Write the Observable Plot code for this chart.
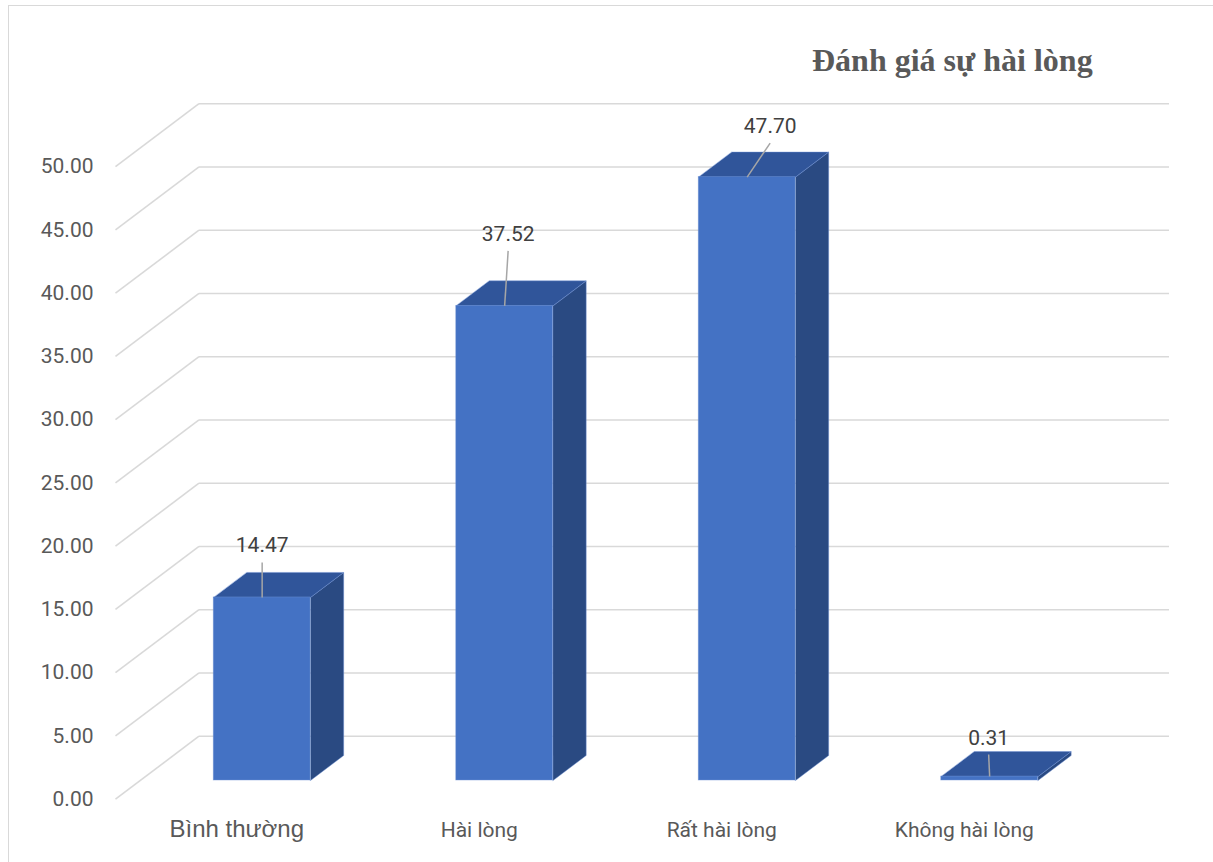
<!DOCTYPE html>
<html>
<head>
<meta charset="utf-8">
<script src="https://cdn.jsdelivr.net/npm/d3@7"></script>
<script src="https://cdn.jsdelivr.net/npm/@observablehq/plot@0.6"></script>
<style>
  html, body { margin: 0; padding: 0; background: #fff; width: 1213px; height: 862px; overflow: hidden; }
  #chart { position: absolute; left: 0; top: 0; }
  #chart svg { background: transparent; }
  #frame { position: absolute; left: 8px; top: 5px; width: 1240px; height: 900px; border: 1px solid #d9d9d9; pointer-events: none; }
  #title { position: absolute; left: 812px; top: 44px; font: bold 32px/32px "Liberation Serif", "Times New Roman", serif; color: #595959; white-space: nowrap; }
</style>
</head>
<body>
<div id="chart"></div>
<div id="title">Đánh giá sự hài lòng</div>
<div id="frame"></div>
<script>
// Satisfaction survey results (%)
const categories = ["Bình thường", "Hài lòng", "Rất hài lòng", "Không hài lòng"];
const values = [14.47, 37.52, 47.70, 0.31];
const yTicks = [0, 5, 10, 15, 20, 25, 30, 35, 40, 45, 50];

// Pixel layout of the front plane of the 3-D box
const W = 1213, H = 862;
const FRONT_LEFT = 115, FRONT_RIGHT = 1085;
const FRONT_ZERO = 798.7, FRONT_MAX = 166.2;
const PX_X = (FRONT_RIGHT - FRONT_LEFT) / categories.length; // px per category
const PX_Y = (FRONT_ZERO - FRONT_MAX) / 50;                   // px per unit

// Oblique depth of the box, expressed in scale units
const DEPTH_X = 83.5 / PX_X;
const DEPTH_Y = 63 / PX_Y;
const bar = {left: 0.303, right: 0.702, front: 0.297, back: 0.694};

// Label placement relative to the top-front centre of each bar (px)
const labelShift = [[0, -45], [3.5, -65], [23, -44], [-1, -32]];
const LEADER_GAP = 10;

const rows = categories.map((c, i) => ({i, cat: c, value: values[i]}));
const at = (x, y, d) => ({x: x + d * DEPTH_X, y: y + d * DEPTH_Y});

// Polygons for the top and right side of every bar
const tops = [], sides = [];
for (const r of rows) {
  const xl = r.i + bar.left, xr = r.i + bar.right, v = r.value;
  [at(xl, v, bar.front), at(xr, v, bar.front), at(xr, v, bar.back), at(xl, v, bar.back)]
    .forEach(p => tops.push({id: r.i, ...p}));
  [at(xr, v, bar.front), at(xr, v, bar.back), at(xr, 0, bar.back), at(xr, 0, bar.front)]
    .forEach(p => sides.push({id: r.i, ...p}));
}

const frontCx = r => r.i + (bar.left + bar.right) / 2 + bar.front * DEPTH_X;
const frontTop = r => r.value + bar.front * DEPTH_Y;
const labelX = r => frontCx(r) + labelShift[r.i][0] / PX_X;
const labelY = r => frontTop(r) - labelShift[r.i][1] / PX_Y;

const grid = {stroke: "#d9d9d9", strokeWidth: 1.6};
const faceStroke = {stroke: "#6b8fd4", strokeOpacity: 0.55, strokeWidth: 0.8};

const chart = Plot.plot({
  width: W,
  height: H,
  marginLeft: FRONT_LEFT,
  marginRight: W - FRONT_RIGHT,
  marginTop: FRONT_MAX,
  marginBottom: H - FRONT_ZERO,
  style: {color: "#595959", fontFamily: "Roboto, sans-serif", background: "transparent", overflow: "visible"},
  x: {domain: [0, categories.length], axis: null},
  y: {domain: [0, 50], label: null},
  marks: [
    // left wall diagonals and back wall gridlines
    Plot.link(yTicks, {x1: () => 0, y1: d => d, x2: () => DEPTH_X, y2: d => d + DEPTH_Y, ...grid}),
    Plot.link(yTicks, {x1: () => DEPTH_X, x2: () => categories.length + DEPTH_X, y1: d => d + DEPTH_Y, y2: d => d + DEPTH_Y, ...grid}),
    Plot.axisY(yTicks, {tickFormat: d => d.toFixed(2), tickSize: 0, tickPadding: 22, fontSize: 21, fontFamily: "Roboto", fill: "#595959", label: null}),
    // bar faces
    Plot.line(sides, {x: "x", y: "y", z: "id", curve: "linear-closed", fill: "#2a4a82", ...faceStroke}),
    Plot.line(tops, {x: "x", y: "y", z: "id", curve: "linear-closed", fill: "#30559a", ...faceStroke}),
    Plot.rect(rows, {
      x1: r => r.i + bar.left + bar.front * DEPTH_X,
      x2: r => r.i + bar.right + bar.front * DEPTH_X,
      y1: () => bar.front * DEPTH_Y,
      y2: frontTop,
      fill: "#4472c4", ...faceStroke
    }),
    // value labels with leader lines
    Plot.link(rows, {x1: labelX, y1: r => labelY(r) - LEADER_GAP / PX_Y, x2: frontCx, y2: frontTop, stroke: "#a6a6a6", strokeWidth: 1.5}),
    Plot.text(rows, {x: labelX, y: labelY, text: r => r.value.toFixed(2), lineAnchor: "bottom", fontSize: 21, fontFamily: "Roboto", fill: "#404040"}),
    // category labels
    Plot.text(categories, {filter: (d, i) => i === 0, x: (d, i) => 0.5, y: () => 0, text: d => d, dy: 38, lineAnchor: "bottom", fontSize: 24, fontFamily: "Liberation Sans", fill: "#595959"}),
    Plot.text(rows.slice(1), {x: r => r.i + 0.5, y: () => 0, text: "cat", dy: 38, lineAnchor: "bottom", fontSize: 21, fontFamily: "Roboto", fill: "#595959"})
  ]
});

document.getElementById("chart").appendChild(chart);
</script>
</body>
</html>
